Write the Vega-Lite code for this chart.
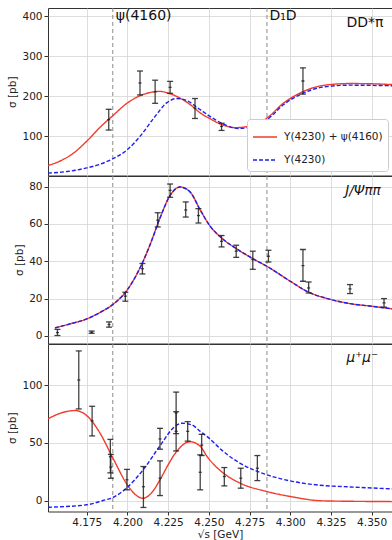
{
  "$schema": "https://vega.github.io/schema/vega-lite/v6.json",
  "padding": {"left": 7, "top": 7, "right": 0, "bottom": 0},
  "spacing": 0,
  "bounds": "flush",
  "config": {
    "font": "DejaVu Sans",
    "view": {"stroke": "#333333", "strokeWidth": 1},
    "axis": {
      "grid": true, "gridColor": "#d4d4d4", "gridWidth": 0.8,
      "domain": false, "tickColor": "#333333", "tickSize": 4,
      "labelFont": "DejaVu Sans", "labelFontSize": 10.5, "labelColor": "#222222", "labelPadding": 2,
      "titleFont": "DejaVu Sans", "titleFontSize": 10.5, "titleFontWeight": "normal", "titleColor": "#222222", "titlePadding": 4
    }
  },
  "resolve": {"scale": {"color": "independent", "strokeDash": "independent"}},
  "datasets": {
    "points": [
      {"panel": "DDpi", "x": 4.1885, "y": 141, "lo": 115, "hi": 167},
      {"panel": "DDpi", "x": 4.2077, "y": 233, "lo": 203, "hi": 263},
      {"panel": "DDpi", "x": 4.2170, "y": 211, "lo": 182, "hi": 240},
      {"panel": "DDpi", "x": 4.2262, "y": 222, "lo": 207, "hi": 237},
      {"panel": "DDpi", "x": 4.2415, "y": 170, "lo": 144, "hi": 194},
      {"panel": "DDpi", "x": 4.2578, "y": 124, "lo": 114, "hi": 132},
      {"panel": "DDpi", "x": 4.3078, "y": 238, "lo": 205, "hi": 271},
      {"panel": "Jpsi", "x": 4.1570, "y": 1.8, "lo": 0.2, "hi": 3.5},
      {"panel": "Jpsi", "x": 4.1780, "y": 2.0, "lo": 1.4, "hi": 2.6},
      {"panel": "Jpsi", "x": 4.1887, "y": 6.1, "lo": 4.7, "hi": 7.5},
      {"panel": "Jpsi", "x": 4.1987, "y": 21.3, "lo": 18.6, "hi": 23.4},
      {"panel": "Jpsi", "x": 4.2092, "y": 36, "lo": 33.2, "hi": 38.8},
      {"panel": "Jpsi", "x": 4.2186, "y": 62, "lo": 58.4, "hi": 66},
      {"panel": "Jpsi", "x": 4.2262, "y": 78, "lo": 74.3, "hi": 81.4},
      {"panel": "Jpsi", "x": 4.2358, "y": 67.5, "lo": 63.7, "hi": 71.8},
      {"panel": "Jpsi", "x": 4.2436, "y": 64.5, "lo": 60.5, "hi": 68.2},
      {"panel": "Jpsi", "x": 4.2578, "y": 50.7, "lo": 47.7, "hi": 53.8},
      {"panel": "Jpsi", "x": 4.2668, "y": 45.4, "lo": 42.1, "hi": 48.6},
      {"panel": "Jpsi", "x": 4.2770, "y": 40.9, "lo": 35.7, "hi": 45.4},
      {"panel": "Jpsi", "x": 4.2866, "y": 42.7, "lo": 39.6, "hi": 45.9},
      {"panel": "Jpsi", "x": 4.3078, "y": 37.7, "lo": 29.3, "hi": 46.3},
      {"panel": "Jpsi", "x": 4.3113, "y": 25.7, "lo": 23, "hi": 28.9},
      {"panel": "Jpsi", "x": 4.3367, "y": 25.2, "lo": 22.7, "hi": 27.5},
      {"panel": "Jpsi", "x": 4.3576, "y": 17.7, "lo": 15.4, "hi": 20},
      {"panel": "mumu", "x": 4.1701, "y": 104.5, "lo": 79.4, "hi": 129.7},
      {"panel": "mumu", "x": 4.1783, "y": 69, "lo": 56, "hi": 81.7},
      {"panel": "mumu", "x": 4.1895, "y": 38, "lo": 24, "hi": 53},
      {"panel": "mumu", "x": 4.1898, "y": 29, "lo": 19.3, "hi": 40},
      {"panel": "mumu", "x": 4.1997, "y": 18, "lo": 9.3, "hi": 27},
      {"panel": "mumu", "x": 4.2098, "y": 12, "lo": -6, "hi": 29.5},
      {"panel": "mumu", "x": 4.2200, "y": 53.4, "lo": 44.5, "hi": 62.6},
      {"panel": "mumu", "x": 4.2200, "y": 19.4, "lo": 4.3, "hi": 34.4},
      {"panel": "mumu", "x": 4.2299, "y": 76, "lo": 58, "hi": 94},
      {"panel": "mumu", "x": 4.2299, "y": 60, "lo": 43, "hi": 77},
      {"panel": "mumu", "x": 4.2370, "y": 60, "lo": 51.5, "hi": 68.4},
      {"panel": "mumu", "x": 4.2456, "y": 48, "lo": 39, "hi": 57.4},
      {"panel": "mumu", "x": 4.2447, "y": 24.5, "lo": 9.3, "hi": 39.6},
      {"panel": "mumu", "x": 4.2595, "y": 20.8, "lo": 12.7, "hi": 28.6},
      {"panel": "mumu", "x": 4.2696, "y": 19.4, "lo": 10.7, "hi": 28},
      {"panel": "mumu", "x": 4.2798, "y": 28, "lo": 17.3, "hi": 39}
    ],
    "curves": [
      {"panel": "DDpi", "series": "Y(4230) + ψ(4160)", "x": 4.1512, "y": 26},
      {"panel": "DDpi", "series": "Y(4230) + ψ(4160)", "x": 4.1590, "y": 38},
      {"panel": "DDpi", "series": "Y(4230) + ψ(4160)", "x": 4.1668, "y": 57},
      {"panel": "DDpi", "series": "Y(4230) + ψ(4160)", "x": 4.1750, "y": 87},
      {"panel": "DDpi", "series": "Y(4230) + ψ(4160)", "x": 4.1832, "y": 122},
      {"panel": "DDpi", "series": "Y(4230) + ψ(4160)", "x": 4.1910, "y": 151},
      {"panel": "DDpi", "series": "Y(4230) + ψ(4160)", "x": 4.2000, "y": 183},
      {"panel": "DDpi", "series": "Y(4230) + ψ(4160)", "x": 4.2077, "y": 201},
      {"panel": "DDpi", "series": "Y(4230) + ψ(4160)", "x": 4.2150, "y": 210},
      {"panel": "DDpi", "series": "Y(4230) + ψ(4160)", "x": 4.2200, "y": 212},
      {"panel": "DDpi", "series": "Y(4230) + ψ(4160)", "x": 4.2247, "y": 208},
      {"panel": "DDpi", "series": "Y(4230) + ψ(4160)", "x": 4.2323, "y": 195},
      {"panel": "DDpi", "series": "Y(4230) + ψ(4160)", "x": 4.2388, "y": 178},
      {"panel": "DDpi", "series": "Y(4230) + ψ(4160)", "x": 4.2447, "y": 158},
      {"panel": "DDpi", "series": "Y(4230) + ψ(4160)", "x": 4.2500, "y": 145},
      {"panel": "DDpi", "series": "Y(4230) + ψ(4160)", "x": 4.2590, "y": 127},
      {"panel": "DDpi", "series": "Y(4230) + ψ(4160)", "x": 4.2660, "y": 121},
      {"panel": "DDpi", "series": "Y(4230) + ψ(4160)", "x": 4.2775, "y": 127},
      {"panel": "DDpi", "series": "Y(4230) + ψ(4160)", "x": 4.2857, "y": 145},
      {"panel": "DDpi", "series": "Y(4230) + ψ(4160)", "x": 4.2960, "y": 183},
      {"panel": "DDpi", "series": "Y(4230) + ψ(4160)", "x": 4.3061, "y": 208},
      {"panel": "DDpi", "series": "Y(4230) + ψ(4160)", "x": 4.3205, "y": 227},
      {"panel": "DDpi", "series": "Y(4230) + ψ(4160)", "x": 4.3367, "y": 231.6},
      {"panel": "DDpi", "series": "Y(4230) + ψ(4160)", "x": 4.3500, "y": 231},
      {"panel": "DDpi", "series": "Y(4230) + ψ(4160)", "x": 4.3625, "y": 229},
      {"panel": "DDpi", "series": "Y(4230)", "x": 4.1512, "y": 7},
      {"panel": "DDpi", "series": "Y(4230)", "x": 4.1630, "y": 11},
      {"panel": "DDpi", "series": "Y(4230)", "x": 4.1750, "y": 20},
      {"panel": "DDpi", "series": "Y(4230)", "x": 4.1830, "y": 29},
      {"panel": "DDpi", "series": "Y(4230)", "x": 4.1910, "y": 43},
      {"panel": "DDpi", "series": "Y(4230)", "x": 4.2000, "y": 66},
      {"panel": "DDpi", "series": "Y(4230)", "x": 4.2077, "y": 99},
      {"panel": "DDpi", "series": "Y(4230)", "x": 4.2160, "y": 144},
      {"panel": "DDpi", "series": "Y(4230)", "x": 4.2241, "y": 183},
      {"panel": "DDpi", "series": "Y(4230)", "x": 4.2303, "y": 194},
      {"panel": "DDpi", "series": "Y(4230)", "x": 4.2364, "y": 189},
      {"panel": "DDpi", "series": "Y(4230)", "x": 4.2447, "y": 166},
      {"panel": "DDpi", "series": "Y(4230)", "x": 4.2500, "y": 151},
      {"panel": "DDpi", "series": "Y(4230)", "x": 4.2590, "y": 130},
      {"panel": "DDpi", "series": "Y(4230)", "x": 4.2680, "y": 119},
      {"panel": "DDpi", "series": "Y(4230)", "x": 4.2775, "y": 124},
      {"panel": "DDpi", "series": "Y(4230)", "x": 4.2857, "y": 141},
      {"panel": "DDpi", "series": "Y(4230)", "x": 4.2960, "y": 179},
      {"panel": "DDpi", "series": "Y(4230)", "x": 4.3061, "y": 204},
      {"panel": "DDpi", "series": "Y(4230)", "x": 4.3205, "y": 223},
      {"panel": "DDpi", "series": "Y(4230)", "x": 4.3367, "y": 227.5},
      {"panel": "DDpi", "series": "Y(4230)", "x": 4.3500, "y": 227},
      {"panel": "DDpi", "series": "Y(4230)", "x": 4.3625, "y": 226},
      {"panel": "Jpsi", "series": "Y(4230) + ψ(4160)", "x": 4.1555, "y": 4.3},
      {"panel": "Jpsi", "series": "Y(4230) + ψ(4160)", "x": 4.1650, "y": 6.5},
      {"panel": "Jpsi", "series": "Y(4230) + ψ(4160)", "x": 4.1750, "y": 9.1},
      {"panel": "Jpsi", "series": "Y(4230) + ψ(4160)", "x": 4.1830, "y": 12.5},
      {"panel": "Jpsi", "series": "Y(4230) + ψ(4160)", "x": 4.1910, "y": 16.8},
      {"panel": "Jpsi", "series": "Y(4230) + ψ(4160)", "x": 4.2000, "y": 24.8},
      {"panel": "Jpsi", "series": "Y(4230) + ψ(4160)", "x": 4.2077, "y": 36.4},
      {"panel": "Jpsi", "series": "Y(4230) + ψ(4160)", "x": 4.2139, "y": 48.9},
      {"panel": "Jpsi", "series": "Y(4230) + ψ(4160)", "x": 4.2200, "y": 63.2},
      {"panel": "Jpsi", "series": "Y(4230) + ψ(4160)", "x": 4.2262, "y": 75.3},
      {"panel": "Jpsi", "series": "Y(4230) + ψ(4160)", "x": 4.2323, "y": 79.8},
      {"panel": "Jpsi", "series": "Y(4230) + ψ(4160)", "x": 4.2385, "y": 77.1},
      {"panel": "Jpsi", "series": "Y(4230) + ψ(4160)", "x": 4.2447, "y": 67.5},
      {"panel": "Jpsi", "series": "Y(4230) + ψ(4160)", "x": 4.2509, "y": 58.7},
      {"panel": "Jpsi", "series": "Y(4230) + ψ(4160)", "x": 4.2578, "y": 52.5},
      {"panel": "Jpsi", "series": "Y(4230) + ψ(4160)", "x": 4.2668, "y": 46.8},
      {"panel": "Jpsi", "series": "Y(4230) + ψ(4160)", "x": 4.2770, "y": 41.4},
      {"panel": "Jpsi", "series": "Y(4230) + ψ(4160)", "x": 4.2857, "y": 37.3},
      {"panel": "Jpsi", "series": "Y(4230) + ψ(4160)", "x": 4.3000, "y": 29.3},
      {"panel": "Jpsi", "series": "Y(4230) + ψ(4160)", "x": 4.3102, "y": 23.9},
      {"panel": "Jpsi", "series": "Y(4230) + ψ(4160)", "x": 4.3250, "y": 19.5},
      {"panel": "Jpsi", "series": "Y(4230) + ψ(4160)", "x": 4.3367, "y": 17.3},
      {"panel": "Jpsi", "series": "Y(4230) + ψ(4160)", "x": 4.3500, "y": 15.9},
      {"panel": "Jpsi", "series": "Y(4230) + ψ(4160)", "x": 4.3625, "y": 14.5},
      {"panel": "Jpsi", "series": "Y(4230)", "x": 4.1555, "y": 4.3},
      {"panel": "Jpsi", "series": "Y(4230)", "x": 4.1650, "y": 6.5},
      {"panel": "Jpsi", "series": "Y(4230)", "x": 4.1750, "y": 9.1},
      {"panel": "Jpsi", "series": "Y(4230)", "x": 4.1830, "y": 12.5},
      {"panel": "Jpsi", "series": "Y(4230)", "x": 4.1910, "y": 16.8},
      {"panel": "Jpsi", "series": "Y(4230)", "x": 4.2000, "y": 24.8},
      {"panel": "Jpsi", "series": "Y(4230)", "x": 4.2077, "y": 36.4},
      {"panel": "Jpsi", "series": "Y(4230)", "x": 4.2139, "y": 48.9},
      {"panel": "Jpsi", "series": "Y(4230)", "x": 4.2200, "y": 63.2},
      {"panel": "Jpsi", "series": "Y(4230)", "x": 4.2262, "y": 75.3},
      {"panel": "Jpsi", "series": "Y(4230)", "x": 4.2323, "y": 79.8},
      {"panel": "Jpsi", "series": "Y(4230)", "x": 4.2385, "y": 77.1},
      {"panel": "Jpsi", "series": "Y(4230)", "x": 4.2447, "y": 67.5},
      {"panel": "Jpsi", "series": "Y(4230)", "x": 4.2509, "y": 58.7},
      {"panel": "Jpsi", "series": "Y(4230)", "x": 4.2578, "y": 52.5},
      {"panel": "Jpsi", "series": "Y(4230)", "x": 4.2668, "y": 46.8},
      {"panel": "Jpsi", "series": "Y(4230)", "x": 4.2770, "y": 41.4},
      {"panel": "Jpsi", "series": "Y(4230)", "x": 4.2857, "y": 37.3},
      {"panel": "Jpsi", "series": "Y(4230)", "x": 4.3000, "y": 29.3},
      {"panel": "Jpsi", "series": "Y(4230)", "x": 4.3102, "y": 23.9},
      {"panel": "Jpsi", "series": "Y(4230)", "x": 4.3250, "y": 19.5},
      {"panel": "Jpsi", "series": "Y(4230)", "x": 4.3367, "y": 17.3},
      {"panel": "Jpsi", "series": "Y(4230)", "x": 4.3500, "y": 15.9},
      {"panel": "Jpsi", "series": "Y(4230)", "x": 4.3625, "y": 14.5},
      {"panel": "mumu", "series": "Y(4230) + ψ(4160)", "x": 4.1512, "y": 70.8},
      {"panel": "mumu", "series": "Y(4230) + ψ(4160)", "x": 4.1586, "y": 75.6},
      {"panel": "mumu", "series": "Y(4230) + ψ(4160)", "x": 4.1679, "y": 78},
      {"panel": "mumu", "series": "Y(4230) + ψ(4160)", "x": 4.1750, "y": 73.6},
      {"panel": "mumu", "series": "Y(4230) + ψ(4160)", "x": 4.1832, "y": 58.3},
      {"panel": "mumu", "series": "Y(4230) + ψ(4160)", "x": 4.1910, "y": 37},
      {"panel": "mumu", "series": "Y(4230) + ψ(4160)", "x": 4.2000, "y": 13.5},
      {"panel": "mumu", "series": "Y(4230) + ψ(4160)", "x": 4.2050, "y": 5},
      {"panel": "mumu", "series": "Y(4230) + ψ(4160)", "x": 4.2096, "y": 2},
      {"panel": "mumu", "series": "Y(4230) + ψ(4160)", "x": 4.2150, "y": 7},
      {"panel": "mumu", "series": "Y(4230) + ψ(4160)", "x": 4.2200, "y": 18},
      {"panel": "mumu", "series": "Y(4230) + ψ(4160)", "x": 4.2250, "y": 31},
      {"panel": "mumu", "series": "Y(4230) + ψ(4160)", "x": 4.2299, "y": 42},
      {"panel": "mumu", "series": "Y(4230) + ψ(4160)", "x": 4.2385, "y": 51},
      {"panel": "mumu", "series": "Y(4230) + ψ(4160)", "x": 4.2447, "y": 47},
      {"panel": "mumu", "series": "Y(4230) + ψ(4160)", "x": 4.2490, "y": 38},
      {"panel": "mumu", "series": "Y(4230) + ψ(4160)", "x": 4.2590, "y": 23.7},
      {"panel": "mumu", "series": "Y(4230) + ψ(4160)", "x": 4.2693, "y": 15},
      {"panel": "mumu", "series": "Y(4230) + ψ(4160)", "x": 4.2857, "y": 7.8},
      {"panel": "mumu", "series": "Y(4230) + ψ(4160)", "x": 4.3000, "y": 3.5},
      {"panel": "mumu", "series": "Y(4230) + ψ(4160)", "x": 4.3205, "y": -0.3},
      {"panel": "mumu", "series": "Y(4230) + ψ(4160)", "x": 4.3625, "y": -0.9},
      {"panel": "mumu", "series": "Y(4230)", "x": 4.1512, "y": -5.8},
      {"panel": "mumu", "series": "Y(4230)", "x": 4.1750, "y": -3.7},
      {"panel": "mumu", "series": "Y(4230)", "x": 4.1850, "y": 0},
      {"panel": "mumu", "series": "Y(4230)", "x": 4.1910, "y": 2.6},
      {"panel": "mumu", "series": "Y(4230)", "x": 4.2000, "y": 11.5},
      {"panel": "mumu", "series": "Y(4230)", "x": 4.2096, "y": 26.6},
      {"panel": "mumu", "series": "Y(4230)", "x": 4.2200, "y": 47.5},
      {"panel": "mumu", "series": "Y(4230)", "x": 4.2290, "y": 64},
      {"panel": "mumu", "series": "Y(4230)", "x": 4.2334, "y": 67},
      {"panel": "mumu", "series": "Y(4230)", "x": 4.2395, "y": 65.6},
      {"panel": "mumu", "series": "Y(4230)", "x": 4.2447, "y": 60},
      {"panel": "mumu", "series": "Y(4230)", "x": 4.2490, "y": 55.4},
      {"panel": "mumu", "series": "Y(4230)", "x": 4.2590, "y": 42.4},
      {"panel": "mumu", "series": "Y(4230)", "x": 4.2693, "y": 32.3},
      {"panel": "mumu", "series": "Y(4230)", "x": 4.2857, "y": 22.3},
      {"panel": "mumu", "series": "Y(4230)", "x": 4.3000, "y": 17},
      {"panel": "mumu", "series": "Y(4230)", "x": 4.3205, "y": 13},
      {"panel": "mumu", "series": "Y(4230)", "x": 4.3367, "y": 11.8},
      {"panel": "mumu", "series": "Y(4230)", "x": 4.3625, "y": 10.1}
    ],
    "thresholds": [
      {"name": "ψ(4160)", "x": 4.191},
      {"name": "D₁D", "x": 4.2857}
    ],
    "labels": [
      {"panel": "DDpi", "text": "ψ(4160)", "x": 4.1928, "y": 400, "style": "normal"},
      {"panel": "DDpi", "text": "D₁D", "x": 4.2872, "y": 400, "style": "italic"},
      {"panel": "DDpi", "text": "DD*π", "x": 4.3345, "y": 384, "style": "italic"},
      {"panel": "Jpsi", "text": "J/Ψππ", "x": 4.3338, "y": 77.5, "style": "italic"},
      {"panel": "mumu", "text": "μ⁺μ⁻", "x": 4.3346, "y": 123.9, "style": "italic"}
    ]
  },
  "vconcat": [
    {
      "width": 344, "height": 167.5,
      "layer": [
        {"data": {"name": "thresholds"}, "mark": {"type": "rule", "color": "#8a8a8a", "strokeDash": [4, 3], "strokeWidth": 1},
         "encoding": {"x": {"field": "x", "type": "quantitative", "scale": {"domain": [4.1512, 4.3625], "nice": false, "zero": false},
           "axis": {"values": [4.175, 4.2, 4.225, 4.25, 4.275, 4.3, 4.325, 4.35], "labels": false, "ticks": false, "title": null}}}},
        {"data": {"name": "curves"}, "transform": [{"filter": "datum.panel === 'DDpi'"}],
         "mark": {"type": "line", "strokeWidth": 1.4, "interpolate": "monotone", "clip": true},
         "encoding": {
           "x": {"field": "x", "type": "quantitative"},
           "y": {"field": "y", "type": "quantitative", "scale": {"domain": [1, 421], "nice": false, "zero": false},
             "axis": {"values": [100, 200, 300, 400], "title": "σ [pb]"}},
           "color": {"field": "series", "type": "nominal", "scale": {"domain": ["Y(4230) + ψ(4160)", "Y(4230)"], "range": ["#f03c2c", "#1f1fef"]},
             "legend": {"title": null, "orient": "bottom-right", "offset": 4.5, "symbolType": "stroke", "symbolSize": 576, "symbolStrokeWidth": 1.5,
               "labelFont": "DejaVu Sans", "labelFontSize": 10.5, "labelColor": "#222222", "labelOffset": 6, "rowPadding": 4,
               "fillColor": "white", "strokeColor": "#cccccc", "cornerRadius": 3, "padding": 5}},
           "strokeDash": {"field": "series", "type": "nominal", "scale": {"domain": ["Y(4230) + ψ(4160)", "Y(4230)"], "range": [[1, 0], [4, 2]]},
             "legend": {"title": null, "orient": "bottom-right", "offset": 4.5, "symbolType": "stroke", "symbolSize": 576, "symbolStrokeWidth": 1.5,
               "labelFont": "DejaVu Sans", "labelFontSize": 10.5, "labelColor": "#222222", "labelOffset": 6, "rowPadding": 4,
               "fillColor": "white", "strokeColor": "#cccccc", "cornerRadius": 3, "padding": 5}}
         }},
        {"data": {"name": "points"}, "transform": [{"filter": "datum.panel === 'DDpi'"}],
         "mark": {"type": "rule", "color": "#222222", "opacity": 0.85, "strokeWidth": 1.3},
         "encoding": {"x": {"field": "x", "type": "quantitative"}, "y": {"field": "lo", "type": "quantitative"}, "y2": {"field": "hi"}}},
        {"data": {"name": "points"}, "transform": [{"filter": "datum.panel === 'DDpi'"}],
         "mark": {"type": "tick", "orient": "horizontal", "color": "#222222", "opacity": 0.85, "size": 6, "thickness": 1.3},
         "encoding": {"x": {"field": "x", "type": "quantitative"}, "y": {"field": "lo", "type": "quantitative"}}},
        {"data": {"name": "points"}, "transform": [{"filter": "datum.panel === 'DDpi'"}],
         "mark": {"type": "tick", "orient": "horizontal", "color": "#222222", "opacity": 0.85, "size": 6, "thickness": 1.3},
         "encoding": {"x": {"field": "x", "type": "quantitative"}, "y": {"field": "hi", "type": "quantitative"}}},
        {"data": {"name": "points"}, "transform": [{"filter": "datum.panel === 'DDpi'"}],
         "mark": {"type": "tick", "orient": "horizontal", "color": "#222222", "opacity": 0.85, "size": 3, "thickness": 1.3},
         "encoding": {"x": {"field": "x", "type": "quantitative"}, "y": {"field": "y", "type": "quantitative"}}},
        {"data": {"name": "labels"}, "transform": [{"filter": "datum.panel === 'DDpi'"}],
         "mark": {"type": "text", "align": "left", "baseline": "middle", "fontSize": 14, "font": "DejaVu Sans", "color": "#111111"},
         "encoding": {"x": {"field": "x", "type": "quantitative"}, "y": {"field": "y", "type": "quantitative"}, "text": {"field": "text"},
           "fontStyle": {"field": "style", "type": "nominal", "scale": null, "legend": null}}}
      ]
    },
    {
      "width": 344, "height": 167.5,
      "layer": [
        {"data": {"name": "thresholds"}, "mark": {"type": "rule", "color": "#8a8a8a", "strokeDash": [4, 3], "strokeWidth": 1},
         "encoding": {"x": {"field": "x", "type": "quantitative", "scale": {"domain": [4.1512, 4.3625], "nice": false, "zero": false},
           "axis": {"values": [4.175, 4.2, 4.225, 4.25, 4.275, 4.3, 4.325, 4.35], "labels": false, "ticks": false, "title": null}}}},
        {"data": {"name": "curves"}, "transform": [{"filter": "datum.panel === 'Jpsi'"}],
         "mark": {"type": "line", "strokeWidth": 1.4, "interpolate": "monotone", "clip": true},
         "encoding": {
           "x": {"field": "x", "type": "quantitative"},
           "y": {"field": "y", "type": "quantitative", "scale": {"domain": [-4.07, 85.7], "nice": false, "zero": false},
             "axis": {"values": [0, 20, 40, 60, 80], "title": "σ [pb]"}},
           "color": {"field": "series", "type": "nominal", "scale": {"domain": ["Y(4230) + ψ(4160)", "Y(4230)"], "range": ["#f03c2c", "#1f1fef"]}, "legend": null},
           "strokeDash": {"field": "series", "type": "nominal", "scale": {"domain": ["Y(4230) + ψ(4160)", "Y(4230)"], "range": [[1, 0], [4, 2]]}, "legend": null}
         }},
        {"data": {"name": "points"}, "transform": [{"filter": "datum.panel === 'Jpsi'"}],
         "mark": {"type": "rule", "color": "#222222", "opacity": 0.85, "strokeWidth": 1.3},
         "encoding": {"x": {"field": "x", "type": "quantitative"}, "y": {"field": "lo", "type": "quantitative"}, "y2": {"field": "hi"}}},
        {"data": {"name": "points"}, "transform": [{"filter": "datum.panel === 'Jpsi'"}],
         "mark": {"type": "tick", "orient": "horizontal", "color": "#222222", "opacity": 0.85, "size": 6, "thickness": 1.3},
         "encoding": {"x": {"field": "x", "type": "quantitative"}, "y": {"field": "lo", "type": "quantitative"}}},
        {"data": {"name": "points"}, "transform": [{"filter": "datum.panel === 'Jpsi'"}],
         "mark": {"type": "tick", "orient": "horizontal", "color": "#222222", "opacity": 0.85, "size": 6, "thickness": 1.3},
         "encoding": {"x": {"field": "x", "type": "quantitative"}, "y": {"field": "hi", "type": "quantitative"}}},
        {"data": {"name": "points"}, "transform": [{"filter": "datum.panel === 'Jpsi'"}],
         "mark": {"type": "tick", "orient": "horizontal", "color": "#222222", "opacity": 0.85, "size": 3, "thickness": 1.3},
         "encoding": {"x": {"field": "x", "type": "quantitative"}, "y": {"field": "y", "type": "quantitative"}}},
        {"data": {"name": "labels"}, "transform": [{"filter": "datum.panel === 'Jpsi'"}],
         "mark": {"type": "text", "align": "left", "baseline": "middle", "fontSize": 13.5, "font": "DejaVu Sans", "fontStyle": "italic", "color": "#111111"},
         "encoding": {"x": {"field": "x", "type": "quantitative"}, "y": {"field": "y", "type": "quantitative"}, "text": {"field": "text"}}}
      ]
    },
    {
      "width": 344, "height": 167.5,
      "layer": [
        {"data": {"name": "thresholds"}, "mark": {"type": "rule", "color": "#8a8a8a", "strokeDash": [4, 3], "strokeWidth": 1},
         "encoding": {"x": {"field": "x", "type": "quantitative", "scale": {"domain": [4.1512, 4.3625], "nice": false, "zero": false},
           "axis": {"values": [4.175, 4.2, 4.225, 4.25, 4.275, 4.3, 4.325, 4.35], "format": ".3f", "title": "√s [GeV]", "tickSize": 3.5, "labelPadding": 2.5, "titlePadding": 1, "labelFlush": false}}}},
        {"data": {"name": "curves"}, "transform": [{"filter": "datum.panel === 'mumu'"}],
         "mark": {"type": "line", "strokeWidth": 1.4, "interpolate": "monotone", "clip": true},
         "encoding": {
           "x": {"field": "x", "type": "quantitative"},
           "y": {"field": "y", "type": "quantitative", "scale": {"domain": [-9.5, 135.7], "nice": false, "zero": false},
             "axis": {"values": [0, 25, 50, 75, 100, 125], "title": "σ [pb]"}},
           "color": {"field": "series", "type": "nominal", "scale": {"domain": ["Y(4230) + ψ(4160)", "Y(4230)"], "range": ["#f03c2c", "#1f1fef"]}, "legend": null},
           "strokeDash": {"field": "series", "type": "nominal", "scale": {"domain": ["Y(4230) + ψ(4160)", "Y(4230)"], "range": [[1, 0], [4, 2]]}, "legend": null}
         }},
        {"data": {"name": "points"}, "transform": [{"filter": "datum.panel === 'mumu'"}],
         "mark": {"type": "rule", "color": "#222222", "opacity": 0.85, "strokeWidth": 1.3},
         "encoding": {"x": {"field": "x", "type": "quantitative"}, "y": {"field": "lo", "type": "quantitative"}, "y2": {"field": "hi"}}},
        {"data": {"name": "points"}, "transform": [{"filter": "datum.panel === 'mumu'"}],
         "mark": {"type": "tick", "orient": "horizontal", "color": "#222222", "opacity": 0.85, "size": 6, "thickness": 1.3},
         "encoding": {"x": {"field": "x", "type": "quantitative"}, "y": {"field": "lo", "type": "quantitative"}}},
        {"data": {"name": "points"}, "transform": [{"filter": "datum.panel === 'mumu'"}],
         "mark": {"type": "tick", "orient": "horizontal", "color": "#222222", "opacity": 0.85, "size": 6, "thickness": 1.3},
         "encoding": {"x": {"field": "x", "type": "quantitative"}, "y": {"field": "hi", "type": "quantitative"}}},
        {"data": {"name": "points"}, "transform": [{"filter": "datum.panel === 'mumu'"}],
         "mark": {"type": "tick", "orient": "horizontal", "color": "#222222", "opacity": 0.85, "size": 3, "thickness": 1.3},
         "encoding": {"x": {"field": "x", "type": "quantitative"}, "y": {"field": "y", "type": "quantitative"}}},
        {"data": {"name": "labels"}, "transform": [{"filter": "datum.panel === 'mumu'"}],
         "mark": {"type": "text", "align": "left", "baseline": "middle", "fontSize": 13.5, "font": "DejaVu Sans", "fontStyle": "italic", "color": "#111111"},
         "encoding": {"x": {"field": "x", "type": "quantitative"}, "y": {"field": "y", "type": "quantitative"}, "text": {"field": "text"}}}
      ]
    }
  ]
}
